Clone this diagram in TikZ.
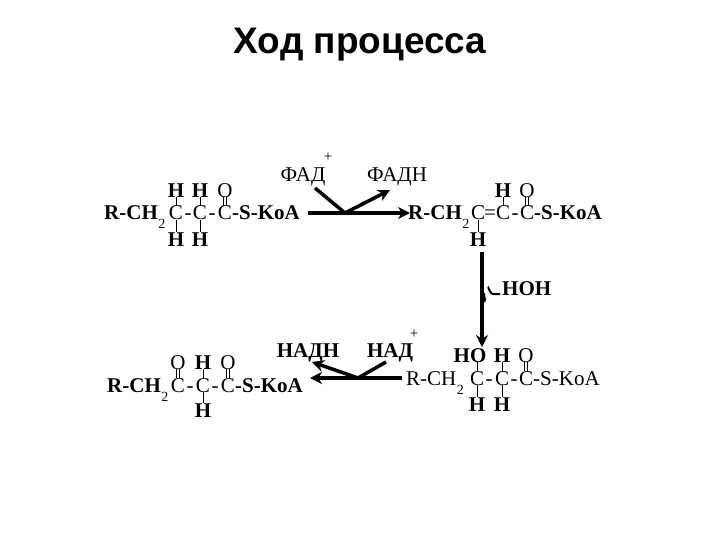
\documentclass[tikz,border=0pt]{standalone}
\usepackage{fontspec}
\setmainfont{Liberation Serif}
\newfontfamily\titlefont{Liberation Sans}
\usetikzlibrary{arrows.meta}
\begin{document}
\begin{tikzpicture}[x=1pt,y=-1pt,
  atm/.style={inner sep=0pt,anchor=base,font=\fontsize{21}{21}\selectfont},
  atb/.style={atm,font=\fontsize{21}{21}\selectfont\bfseries},
  sub/.style={inner sep=0pt,anchor=base west,font=\fontsize{14}{14}\selectfont},
  bond/.style={line width=0.8pt},
  rx/.style={line width=3.5pt},
  rxa/.style={line width=3.5pt,-{Stealth[length=12pt,width=12pt]}}]
\useasboundingbox (0,0) rectangle (720,540);
\node[inner sep=0pt,font=\titlefont\fontsize{37}{37}\selectfont\bfseries] (title) at (360,45) {Ход процесса};
% ---- top-left
\node[atb,anchor=base west] (a1) at (104,220) {R-CH};
\node[sub] (a2) at ([yshift=-9pt]a1.base east) {2};
\node[atm] (aC1) at (176,220) {C};
\node[atm] (ah1) at (188,220) {-};
\node[atm] (aC2) at (200,220) {C};
\node[atm] (ah2) at (212,220) {-};
\node[atm] (aC3) at (225,220) {C};
\node[atb,anchor=base west] (aS) at (232,220) {-S-KoA};
\node[atb] (aH1) at (176,197) {H};
\node[atb] (aH2) at (200,197) {H};
\node[atm] (aO) at (225,197) {O};
\node[atb] (aH3) at (176,246) {H};
\node[atb] (aH4) at (200,246) {H};
\draw[bond] (aH1.south) -- (aC1.north);
\draw[bond] (aH2.south) -- (aC2.north);
\draw[bond] ([xshift=-1.5pt]aC3.north) -- ([xshift=-1.5pt]aC3.north |- aO.south);
\draw[bond] ([xshift=1.5pt]aC3.north) -- ([xshift=1.5pt]aC3.north |- aO.south);
\draw[bond] (aC1.south) -- (aH3.north);
\draw[bond] (aC2.south) -- (aH4.north);
% ---- top-right
\node[atb,anchor=base west] (b1) at (408,220) {R-CH};
\node[sub] (b2) at ([yshift=-9pt]b1.base east) {2};
\node[atm] (bC1) at (478,220) {C};
\node[atm] (be) at (490,220) {=};
\node[atm] (bC2) at (503,220) {C};
\node[atm] (bh2) at (515,220) {-};
\node[atm] (bC3) at (527,220) {C};
\node[atb,anchor=base west] (bS) at (534,220) {-S-KoA};
\node[atb] (bH1) at (503,197) {H};
\node[atm] (bO) at (527,197) {O};
\node[atb] (bH2) at (478,246) {H};
\draw[bond] (bH1.south) -- (bC2.north);
\draw[bond] ([xshift=-1.5pt]bC3.north) -- ([xshift=-1.5pt]bC3.north |- bO.south);
\draw[bond] ([xshift=1.5pt]bC3.north) -- ([xshift=1.5pt]bC3.north |- bO.south);
\draw[bond] (bC1.south) -- (bH2.north);
% ---- top reaction
\coordinate (r1s) at (308,213);
\coordinate (r1m) at (345,213);
\coordinate (r1e) at (410,213);
\draw[rxa] (r1s) -- (r1e);
\node[atm] (fad) at (303,182) {ФАД};
\node[inner sep=0pt,font=\fontsize{15}{15}\selectfont] (fadp) at (328,157) {+};
\node[atm] (fadh) at (397,182) {ФАДН};
\coordinate (f1) at (315,188);
\draw[rx] (f1) -- (r1m);
\draw[rxa] (r1m) -- (390,190);
% ---- vertical reaction
\coordinate (v1) at (482,252);
\coordinate (v2) at (482,347);
\draw[rxa] (v1) -- (v2);
\node[atb,anchor=base west] (hoh) at (502,295) {HOH};
\draw[line width=2pt] (hoh.west) ++(-2pt,-6pt) -- ++(-7pt,0) to[out=180,in=90] ++(-5pt,6pt);
\draw[line width=2pt,-{Stealth[length=5pt]}] (484,293) -- (485,303);
% ---- bottom-right
\node[atm,anchor=base west] (c1) at (406,385) {R-CH};
\node[sub] (c2) at ([yshift=-9pt]c1.base east) {2};
\node[atm] (cC1) at (477,385) {C};
\node[atm] (ch1) at (489,385) {-};
\node[atm] (cC2) at (502,385) {C};
\node[atm] (ch2) at (514,385) {-};
\node[atm] (cC3) at (526,385) {C};
\node[atm,anchor=base west] (cS) at (533,385) {-S-KoA};
\node[atb] (cHO) at (470,362) {HO};
\node[atb] (cH1) at (502,362) {H};
\node[atm] (cO) at (526,362) {O};
\node[atb] (cH2) at (477,411) {H};
\node[atb] (cH3) at (502,411) {H};
\draw[bond] (cC1.north) -- (cC1.north |- cHO.south);
\draw[bond] (cH1.south) -- (cC2.north);
\draw[bond] ([xshift=-1.5pt]cC3.north) -- ([xshift=-1.5pt]cC3.north |- cO.south);
\draw[bond] ([xshift=1.5pt]cC3.north) -- ([xshift=1.5pt]cC3.north |- cO.south);
\draw[bond] (cC1.south) -- (cH2.north);
\draw[bond] (cC2.south) -- (cH3.north);
% ---- bottom reaction
\coordinate (r2s) at (402,378);
\coordinate (r2m) at (358,378);
\coordinate (r2e) at (310,378);
\draw[rxa] (r2s) -- (r2e);
\node[atb] (nad) at (390,357) {НАД};
\node[inner sep=0pt,font=\fontsize{15}{15}\selectfont] (nadp) at (414,334) {+};
\node[atb] (nadh) at (308,357) {НАДН};
\coordinate (n1) at (386,362);
\draw[rx] (n1) -- (r2m);
\draw[rxa] (r2m) -- (312,362);
% ---- bottom-left
\node[atb,anchor=base west] (d1) at (107,392) {R-CH};
\node[sub] (d2) at ([yshift=-9pt]d1.base east) {2};
\node[atm] (dC1) at (178,392) {C};
\node[atm] (dh1) at (190,392) {-};
\node[atm] (dC2) at (203,392) {C};
\node[atm] (dh2) at (215,392) {-};
\node[atm] (dC3) at (228,392) {C};
\node[atb,anchor=base west] (dS) at (235,392) {-S-KoA};
\node[atm] (dO1) at (178,369) {O};
\node[atb] (dH1) at (203,369) {H};
\node[atm] (dO2) at (228,369) {O};
\node[atb] (dH2) at (203,417) {H};
\draw[bond] ([xshift=-1.5pt]dC1.north) -- ([xshift=-1.5pt]dC1.north |- dO1.south);
\draw[bond] ([xshift=1.5pt]dC1.north) -- ([xshift=1.5pt]dC1.north |- dO1.south);
\draw[bond] (dH1.south) -- (dC2.north);
\draw[bond] ([xshift=-1.5pt]dC3.north) -- ([xshift=-1.5pt]dC3.north |- dO2.south);
\draw[bond] ([xshift=1.5pt]dC3.north) -- ([xshift=1.5pt]dC3.north |- dO2.south);
\draw[bond] (dC2.south) -- (dH2.north);
\end{tikzpicture}
\end{document}
